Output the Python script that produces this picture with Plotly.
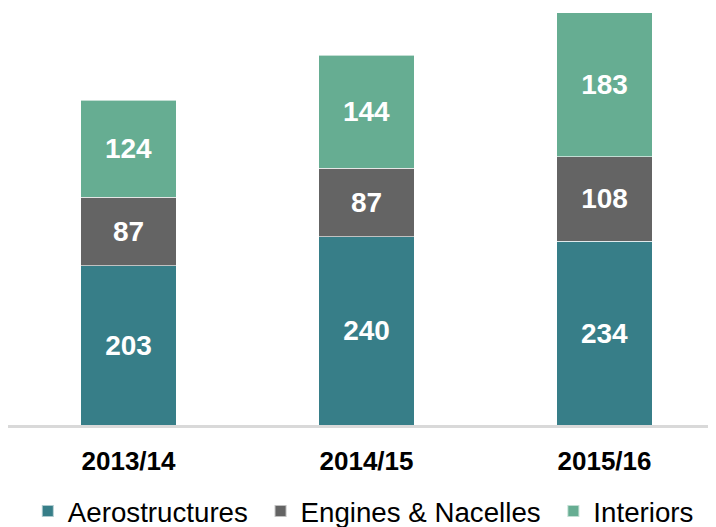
import plotly.graph_objects as go

categories = ["2013/14", "2014/15", "2015/16"]
aerostructures = [203, 240, 234]
engines_nacelles = [87, 87, 108]
interiors = [124, 144, 183]

series = [
    ("Aerostructures", aerostructures, "#377E88"),
    ("Engines & Nacelles", engines_nacelles, "#646464"),
    ("Interiors", interiors, "#66AD92"),
]

FONT = "Liberation Sans, Arial, sans-serif"

fig = go.Figure()
for name, vals, color in series:
    fig.add_trace(go.Bar(
        name=name + "\u00a0", x=categories, y=vals,
        marker=dict(color=color, line=dict(color="rgba(255,255,255,0.6)", width=1)),
        text=vals, textposition="inside", insidetextanchor="middle",
        textangle=0, constraintext="none",
        textfont=dict(family=FONT, size=28, color="white", weight="bold"),
        hoverinfo="skip",
    ))

# page body has an 8px default margin; figure sized/offset to compensate
fig.update_layout(
    barmode="stack", bargap=0.6,
    width=708, height=527,
    margin=dict(l=0, r=0, t=0, b=110, autoexpand=False),
    plot_bgcolor="white", paper_bgcolor="white",
    font=dict(family=FONT),
    showlegend=True,
    legend=dict(orientation="h", x=0.028, xanchor="left", y=-0.1475, yanchor="top",
                font=dict(family=FONT, size=27.7, color="#000000"),
                traceorder="normal", itemsizing="constant"),
)
fig.update_xaxes(
    type="category", range=[-0.5063, 2.4685],
    showline=True, linecolor="#D9D9D9", linewidth=2.5,
    showgrid=False, ticks="", ticklabelstandoff=11,
    tickfont=dict(family=FONT, size=26, color="#000000", weight="bold"),
)
fig.update_yaxes(range=[0, 531.2], visible=False, showgrid=False)

fig.write_html("out.html")
